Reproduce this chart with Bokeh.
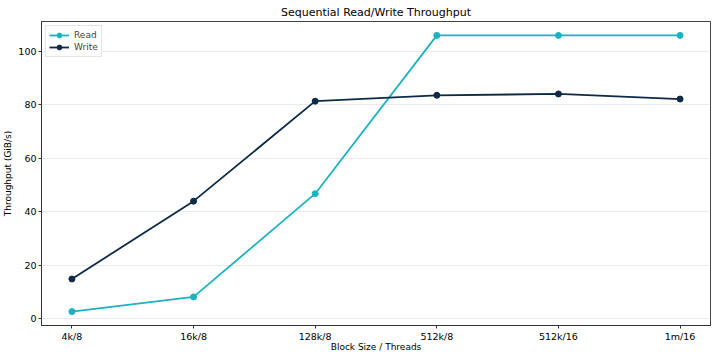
from bokeh.plotting import figure
from bokeh.models import FixedTicker, Range1d, Legend, LegendItem
from bokeh.embed import file_html
from bokeh.resources import INLINE

categories = ["4k/8", "16k/8", "128k/8", "512k/8", "512k/16", "1m/16"]
read_vals = [2.7, 8.2, 46.8, 106.0, 106.0, 106.0]
write_vals = [14.9, 44.0, 81.4, 83.6, 84.1, 82.2]
y_ticks = [0, 20, 40, 60, 80, 100]

READ_C = "#1ab3c1"
WRITE_C = "#0d2a47"
FONT = "DejaVu Sans"

x = list(range(len(categories)))

p = figure(frame_width=669, frame_height=304, output_backend="svg", toolbar_location=None,
           x_range=Range1d(-0.25, len(categories) - 0.75), y_range=Range1d(-2.5, 111.2),
           min_border_left=0, min_border_right=1, min_border_top=0, min_border_bottom=0,
           title="Sequential Read/Write Throughput")
p.title.align = "center"
p.title.text_font = FONT
p.title.text_font_size = "11px"
p.title.text_font_style = "normal"
p.title.text_color = "#000000"
p.title.standoff = 6

p.xaxis.ticker = FixedTicker(ticks=x)
p.xaxis.major_label_overrides = {i: c for i, c in enumerate(categories)}
p.yaxis.ticker = FixedTicker(ticks=y_ticks)
p.xaxis.axis_label = "Block Size / Threads"
p.yaxis.axis_label = "Throughput (GiB/s)"
for ax in (p.xaxis[0], p.yaxis[0]):
    ax.axis_label_text_font = FONT
    ax.axis_label_text_font_size = "9px"
    ax.axis_label_text_font_style = "normal"
    ax.axis_label_text_color = "#000000"
    ax.major_label_text_font = FONT
    ax.major_label_text_font_size = "9.5px"
    ax.major_label_text_color = "#000000"
    ax.minor_tick_line_color = None
    ax.major_tick_in = 0
    ax.major_tick_out = 3
    ax.axis_line_color = "#333333"
    ax.major_tick_line_color = "#333333"
    ax.major_label_standoff = 2
p.xaxis.axis_label_standoff = -3
p.yaxis.axis_label_standoff = 2

p.xgrid.grid_line_color = None
p.ygrid.grid_line_color = "#e6e6e6"
p.ygrid.grid_line_alpha = 0.8
p.outline_line_color = "#444444"
p.outline_line_width = 1

r1 = p.line(x, read_vals, line_color=READ_C, line_width=1.8)
r2 = p.scatter(x, read_vals, size=6, fill_color=READ_C, line_color=READ_C)
w1 = p.line(x, write_vals, line_color=WRITE_C, line_width=1.8)
w2 = p.scatter(x, write_vals, size=6, fill_color=WRITE_C, line_color=WRITE_C)

legend = Legend(items=[LegendItem(label="Read", renderers=[r1, r2]),
                       LegendItem(label="Write", renderers=[w1, w2])],
                location="top_left")
legend.label_text_font = FONT
legend.label_text_font_size = "9px"
legend.glyph_height = 12
legend.glyph_width = 20
legend.label_height = 12
legend.spacing = 0
legend.padding = 3
legend.margin = 4
legend.border_line_color = "#cccccc"
legend.label_standoff = 5
p.add_layout(legend)

open("out.html", "w").write(file_html(p, INLINE))
